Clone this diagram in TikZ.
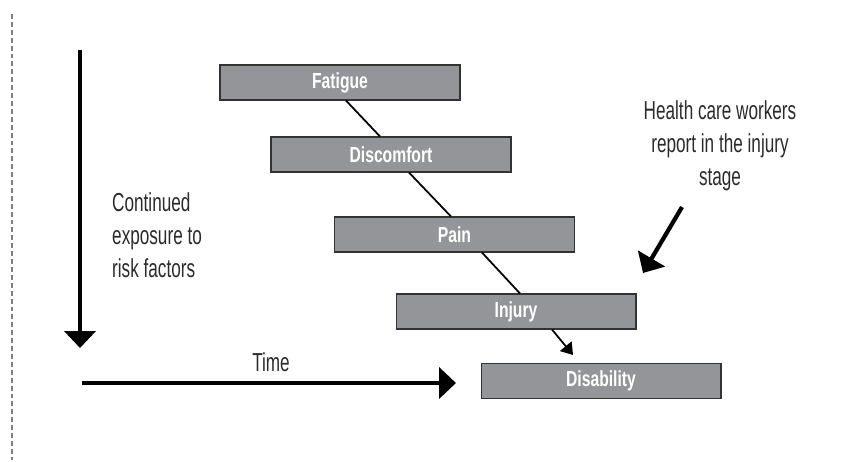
\documentclass[tikz,border=0pt]{standalone}
\usepackage{fontspec}
\usepackage{xcolor}
\usetikzlibrary{arrows.meta,calc}
\setmainfont{Liberation Sans}[FakeStretch=0.66]
\newfontfamily\stagefont{Liberation Sans}[FakeStretch=0.72]
\definecolor{stagegray}{HTML}{939598}
\definecolor{textgray}{HTML}{2B2B2B}

\tikzset{
  stagebox/.style={draw=black!80, line width=0.6pt, fill=stagegray,
    minimum width=4.8cm, minimum height=0.7cm, inner sep=0pt,
    text=white, font=\stagefont\bfseries\fontsize{12.4}{14}\selectfont},
  stageline/.style={line width=1pt},
  bigarrow/.style={line width=2.8pt, -{Triangle[width=17.5pt,length=9.6pt]}},
  plainlabel/.style={text=textgray, font=\fontsize{14.8}{18.7}\selectfont}
}

\begin{document}
\begin{tikzpicture}[x=0.02cm, y=-0.02cm]

% Frame
\useasboundingbox (0,0) rectangle (849,461);

% Dashed margin line
\draw[gray, line width=0.6pt, dash pattern=on 2.8pt off 1.7pt] (12,14) -- (12,460);

% Stage boxes
\node[stagebox] (fatigue)    at (340,82.5)  {Fatigue};
\node[stagebox] (discomfort) at (391,154.5) {Discomfort};
\node[stagebox] (pain)       at (454.5,234.5) {Pain};
\node[stagebox] (injury)     at (516,311.5) {Injury};
\node[stagebox] (disability) at (601,381)   {Disability};

% Links between stages
\draw[stageline] ([xshift=0.12cm]fatigue.south) -- ([xshift=-0.22cm]discomfort.north);
\draw[stageline] ([xshift=0.36cm]discomfort.south) -- ([xshift=-0.07cm]pain.north);
\draw[stageline] ([xshift=0.55cm]pain.south) -- ([xshift=0.08cm]injury.north);
\draw[stageline, -{Triangle[width=8.5pt,length=6.5pt]}]
  ([xshift=0.72cm]injury.south) -- ([xshift=-0.56cm,yshift=0.16cm]disability.north);

% Exposure arrow
\coordinate (exptop) at (80,50);
\coordinate (expend) at (80,348);
\draw[bigarrow] (exptop) -- (expend);
\node[plainlabel, align=left, anchor=west] (exposure) at (106,235)
  {Continued\\exposure to\\risk factors};

% Time arrow
\coordinate (timestart) at (82,383);
\coordinate (timeend) at (456,383);
\draw[bigarrow] (timestart) -- (timeend);
\node[plainlabel] (time) at (271,362) {Time};

% Note on reporting
\node[plainlabel, align=center] (report) at (720,146)
  {Health care workers\\report in the injury\\stage};
\coordinate (reportstart) at (682,207);
\coordinate (reportend) at (643,273);
\draw[bigarrow, line width=2.4pt] (reportstart) -- (reportend);

\end{tikzpicture}
\end{document}
